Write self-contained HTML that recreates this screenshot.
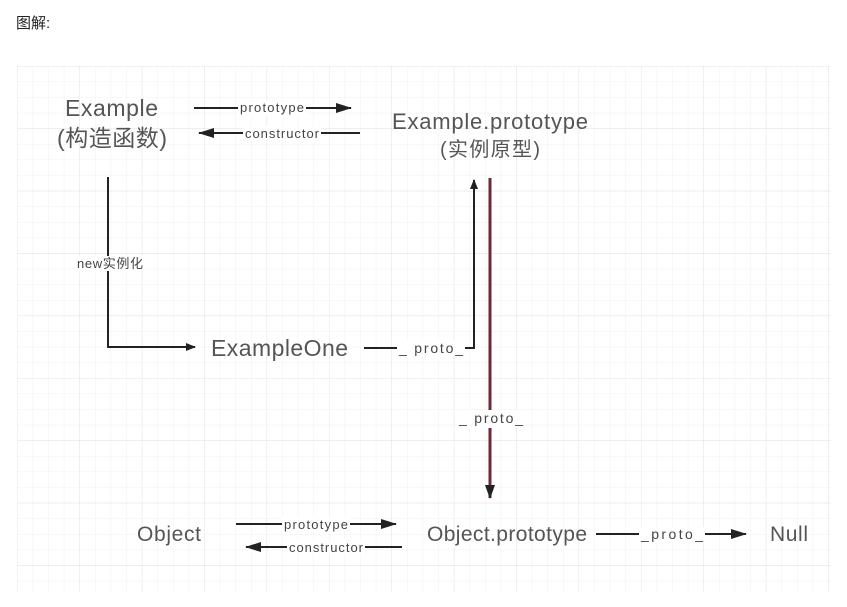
<!DOCTYPE html>
<html><head><meta charset="utf-8"><style>
body{margin:0;background:#fff;width:847px;height:607px;overflow:hidden;font-family:"Liberation Sans","Noto Sans CJK SC",sans-serif}
</style></head><body>
<div style="position:absolute;left:16px;top:12px;font-size:15px;color:#222;font-family:'Liberation Sans','Noto Sans CJK SC',sans-serif">图解:</div>
<svg width="847" height="607" style="position:absolute;left:0;top:0">
<defs>
<pattern id="g" x="17" y="66" width="15.6" height="15.6" patternUnits="userSpaceOnUse"><path d="M0 0H15.6M0 0V15.6" stroke="#f0f0f0" stroke-width="1" fill="none"/></pattern>
<pattern id="G" x="17" y="66" width="62.4" height="62.4" patternUnits="userSpaceOnUse"><path d="M0 0H62.4M0 0V62.4" stroke="#e4e4e4" stroke-width="1" fill="none"/></pattern>
<marker id="a" markerWidth="10" markerHeight="8" refX="9" refY="4" orient="auto" markerUnits="userSpaceOnUse"><path d="M0 0L10 4L0 8Z" fill="#222"/></marker>
<marker id="b" markerWidth="16" markerHeight="10" refX="15" refY="5" orient="auto" markerUnits="userSpaceOnUse"><path d="M0 0L16 5L0 10Z" fill="#222"/></marker>
</defs>
<rect x="17" y="66" width="814" height="526" fill="url(#g)"/>
<rect x="17" y="66" width="814" height="526" fill="url(#G)"/>
<g font-family="Liberation Sans,Noto Sans CJK SC,sans-serif" fill="#555" font-size="23">
<text x="65" y="116" textLength="93">Example</text>
<text x="57" y="146" textLength="110">(构造函数)</text>
<text x="392" y="129" textLength="196" font-size="22">Example.prototype</text>
<text x="440" y="156" textLength="100" font-size="20">(实例原型)</text>
<text x="211" y="356" textLength="137">ExampleOne</text>
<text x="137" y="541" textLength="64" font-size="21">Object</text>
<text x="427" y="541" textLength="160" font-size="21">Object.prototype</text>
<text x="770" y="541" textLength="38" font-size="21">Null</text>
</g>
<g stroke="#222" stroke-width="2" fill="none">
<line x1="194" y1="108" x2="351" y2="108" marker-end="url(#b)"/>
<line x1="360" y1="133" x2="199" y2="133" marker-end="url(#b)"/>
<path d="M108 177V347H195" marker-end="url(#a)"/>
<path d="M364 348H474V180" marker-end="url(#a)"/>
<line x1="236" y1="524" x2="396" y2="524" marker-end="url(#b)"/>
<line x1="402" y1="547" x2="246" y2="547" marker-end="url(#b)"/>
<line x1="596" y1="534" x2="746" y2="534" marker-end="url(#b)"/>
</g>
<line x1="490" y1="178" x2="490" y2="498" stroke="#6b2a35" stroke-width="3"/>
<path d="M485 485L490 499L495 485Z" fill="#222"/>
<g font-family="Liberation Sans,sans-serif" font-size="13" fill="#444">
<rect x="238" y="101" width="68" height="14" fill="#fff"/><text x="240" y="112" textLength="64">prototype</text>
<rect x="243" y="126" width="78" height="14" fill="#fff"/><text x="245" y="138" textLength="74">constructor</text>
<rect x="75" y="256" width="70" height="15" fill="#fff"/><text x="77" y="268" textLength="66" font-family="Liberation Sans,Noto Sans CJK SC,sans-serif">new实例化</text>
<rect x="397" y="340" width="68" height="16" fill="#fff"/><text x="399" y="353" font-size="14" textLength="64">_ proto_</text>
<rect x="457" y="410" width="68" height="18" fill="#fff"/><text x="459" y="423" font-size="14" textLength="64">_ proto_</text>
<rect x="282" y="517" width="68" height="14" fill="#fff"/><text x="284" y="529" textLength="64">prototype</text>
<rect x="287" y="540" width="78" height="14" fill="#fff"/><text x="289" y="552" textLength="74">constructor</text>
<rect x="639" y="527" width="66" height="15" fill="#fff"/><text x="641" y="539" font-size="14" textLength="62">_proto_</text>
</g>
</svg>
</body></html>
